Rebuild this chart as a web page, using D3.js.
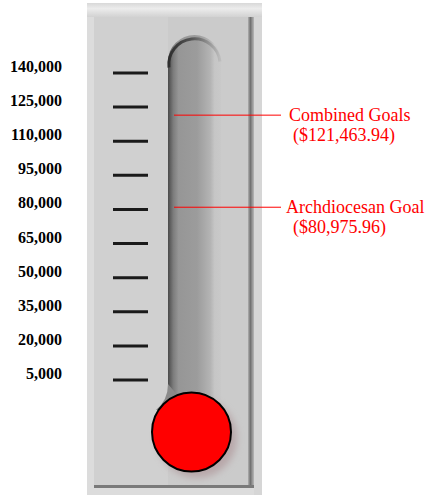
<!DOCTYPE html>
<html>
<head>
<meta charset="utf-8">
<script src="https://cdn.jsdelivr.net/npm/d3@7"></script>
<style>
  body { margin: 0; background: #fff; }
  svg { display: block; }
</style>
</head>
<body>
<div class="chart-area"></div>
<script>
var tickValues = [5000, 20000, 35000, 50000, 65000, 80000, 95000, 110000, 125000, 140000];
var goalNames = ["Combined Goals", "Archdiocesan Goal"];
var goalValues = [121463.94, 80975.96];
var raised = 0;

var width = 428,
    height = 498,
    svg = d3.select(".chart-area")
            .append("svg")
            .attr("width", width)
            .attr("height", height);

var y = d3.scaleLinear().domain([5000, 140000]).range([380, 73]);

var defs = svg.append("defs");

var tubeGrad = defs.append("linearGradient").attr("id", "tube");
[[0, "#4a4a4a"], [0.1, "#7c7c7c"], [0.2, "#969696"], [0.55, "#9c9c9c"], [0.8, "#b4b4b4"], [0.88, "#c6c6c6"], [1, "#c9c9c9"]]
  .forEach(function(s) { tubeGrad.append("stop").attr("offset", s[0]).attr("stop-color", s[1]); });

var arcGrad = defs.append("linearGradient").attr("id", "arc");
[[0, "#2e2e2e"], [0.45, "#555"], [1, "#bdbdbd"]]
  .forEach(function(s) { arcGrad.append("stop").attr("offset", s[0]).attr("stop-color", s[1]); });

var topGrad = defs.append("linearGradient").attr("id", "topband").attr("x1", 0).attr("x2", 0).attr("y1", 0).attr("y2", 1);
[[0, "#d8d8d8"], [0.4, "#ececec"], [1, "#d2d2d2"]]
  .forEach(function(s) { topGrad.append("stop").attr("offset", s[0]).attr("stop-color", s[1]); });

var edgeGrad = defs.append("linearGradient").attr("id", "edge");
[[0, "#b0b0b0"], [0.4, "#707070"], [1, "#b8b8b8"]]
  .forEach(function(s) { edgeGrad.append("stop").attr("offset", s[0]).attr("stop-color", s[1]); });

defs.append("filter").attr("id", "blur")
    .attr("x", "-30%").attr("y", "-30%").attr("width", "160%").attr("height", "160%")
    .append("feGaussianBlur").attr("stdDeviation", 3.5);

// panel
svg.append("rect").attr("x", 87).attr("y", 3).attr("width", 175).attr("height", 492).attr("fill", "#dcdcdc");
svg.append("rect").attr("x", 94).attr("y", 17).attr("width", 160).attr("height", 470).attr("fill", "#cbcbcb");
svg.append("rect").attr("x", 94).attr("y", 17).attr("width", 74).attr("height", 470).attr("fill", "#d0d0d0");
svg.append("rect").attr("x", 87).attr("y", 3).attr("width", 175).attr("height", 14).attr("fill", "url(#topband)");
svg.append("rect").attr("x", 248).attr("y", 17).attr("width", 6).attr("height", 471).attr("fill", "url(#edge)");
svg.append("rect").attr("x", 94).attr("y", 485).attr("width", 160).attr("height", 3).attr("fill", "#7a7a7a");
svg.append("rect").attr("x", 254).attr("y", 17).attr("width", 8).attr("height", 478).attr("fill", "#d6d6d6");

// tube
var tx0 = 168, tx1 = 221, r = (tx1 - tx0) / 2, ttop = 35;
svg.append("path")
   .attr("d", "M" + tx0 + ",400 L" + tx0 + "," + (ttop + r) +
              " A" + r + "," + r + " 0 0 1 " + tx1 + "," + (ttop + r) +
              " L" + tx1 + ",400 Z")
   .attr("fill", "url(#tube)");
svg.append("path")
   .attr("d", "M" + (tx0 + 1) + "," + (ttop + r + 6) + " A" + (r - 1) + "," + (r - 1) + " 0 0 1 " + (tx1 - 1) + "," + (ttop + r))
   .attr("fill", "none").attr("stroke", "url(#arc)").attr("stroke-width", 3);
svg.append("path")
   .attr("d", "M" + tx0 + ",384 Q" + tx0 + ",400 156,410 L190,410 Z")
   .attr("fill", "#8a8a8a");

// mercury column (nothing raised yet)
svg.append("rect")
   .attr("x", tx0 + 4).attr("width", tx1 - tx0 - 8)
   .attr("y", y(Math.max(raised, 5000))).attr("height", Math.max(0, 400 - y(Math.max(raised, 5000))))
   .attr("fill", raised > 0 ? "#ff0000" : "none");

// bulb
svg.append("circle").attr("cx", 197).attr("cy", 438).attr("r", 40)
   .attr("fill", "#a88a8e").attr("opacity", 0.55).attr("filter", "url(#blur)");
svg.append("circle").attr("cx", 191.5).attr("cy", 432).attr("r", 39.5)
   .attr("fill", "#ff0000").attr("stroke", "#000").attr("stroke-width", 2);

// ticks
svg.selectAll(".tick")
   .data(tickValues)
   .enter()
   .append("line")
   .attr("class", "tick")
   .attr("x1", 113).attr("x2", 148)
   .attr("y1", function(d) { return y(d) })
   .attr("y2", function(d) { return y(d) })
   .attr("stroke", "#1a1a1a").attr("stroke-width", 3);

svg.selectAll(".label")
   .data(tickValues)
   .enter()
   .append("text")
   .attr("class", "label")
   .text(function(d) { return d3.format(",")(d) })
   .attr("x", 62)
   .attr("y", function(d) { return y(d) - 1 })
   .attr("text-anchor", "end")
   .attr("font-family", "'Liberation Serif', 'Times New Roman', serif")
   .attr("font-weight", "bold")
   .attr("font-size", 16)
   .attr("fill", "#000");

// goal markers
var goals = svg.selectAll(".goal")
   .data(goalValues)
   .enter()
   .append("g")
   .attr("class", "goal")
   .attr("transform", function(d) { return "translate(0," + y(d) + ")" });

goals.append("line")
   .attr("x1", 174).attr("x2", 281)
   .attr("stroke", "#ff0000").attr("stroke-width", 1);

goals.append("text")
   .text(function(d, i) { return goalNames[i] })
   .attr("x", function(d, i) { return i == 0 ? 289 : 286 })
   .attr("y", 6);

goals.append("text")
   .text(function(d) { return "($" + d3.format(",.2f")(d) + ")" })
   .attr("x", 293)
   .attr("y", 26);

goals.selectAll("text")
   .attr("font-family", "'Liberation Serif', 'Times New Roman', serif")
   .attr("font-size", 18)
   .attr("fill", "#ff0000");
</script>
</body>
</html>
